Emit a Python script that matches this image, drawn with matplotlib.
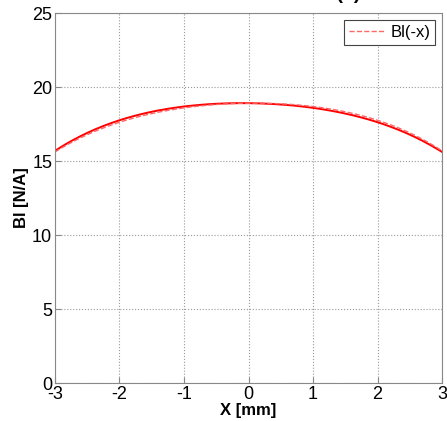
import numpy as np
import matplotlib.pyplot as plt

plt.rcParams['font.family'] = ['Liberation Sans', 'DejaVu Sans']

# posiciones X [mm] y factor de fuerza Bl [N/A]
x_mm = [-3, -2.5, -2, -1.5, -1, -0.5, 0, 0.5, 1, 1.5, 2, 2.5, 3]
bl_x = [15.72, 16.85, 17.75, 18.35, 18.72, 18.88, 18.9, 18.8, 18.58, 18.2, 17.65, 16.8, 15.6]
bl_menos_x = bl_x[::-1]

x_ticks = [-3, -2, -1, 0, 1, 2, 3]
y_ticks = [0, 5, 10, 15, 20, 25]

xs = np.array(x_mm)
xf = np.linspace(-3, 3, 200)
# suavizado del trazo con un polinomio ajustado a los puntos leídos
curva = np.polyval(np.polyfit(xs, bl_x, 4), xf)
curva_menos = np.polyval(np.polyfit(xs, bl_menos_x, 4), xf)

fig = plt.figure(figsize=(4.47, 4.21), dpi=100)
ax = fig.add_axes([0.123, 0.090, 0.866, 0.879])

ax.plot(xf, curva, color='red', linewidth=1.4, label='_Bl(x)')
ax.plot(xf, curva_menos, color='#ff6666', linestyle='--', linewidth=1.0, label='Bl(-x)')

ax.set_xlim(-3, 3)
ax.set_ylim(0, 25)
ax.set_xticks(x_ticks)
ax.set_yticks(y_ticks)
ax.set_xticklabels([str(t) for t in x_ticks], fontsize=13)
ax.set_yticklabels([str(t) for t in y_ticks], fontsize=13)
ax.tick_params(direction='in', length=4, color='#888888', pad=2)
ax.grid(True, linestyle=':', color='#999999', linewidth=0.8)
for s in ax.spines.values():
    s.set_color('#888888')

ax.set_xlabel('X [mm]', fontsize=12, fontweight='bold', labelpad=0)
ax.set_ylabel('Bl [N/A]', fontsize=12, fontweight='bold', labelpad=2)
# el título queda casi fuera del lienzo, como en la figura original
ax.set_title('Force factor Bl(x)', fontsize=14, fontweight='bold', pad=10, x=0.58)

leg = ax.legend(loc='upper right', fontsize=12, handlelength=2.2, borderpad=0.3,
                handletextpad=0.3, fancybox=False, framealpha=1, borderaxespad=0.4)
leg.get_frame().set_edgecolor('#444444')
leg.get_frame().set_linewidth(0.8)

fig.savefig('out.png', dpi=100)
